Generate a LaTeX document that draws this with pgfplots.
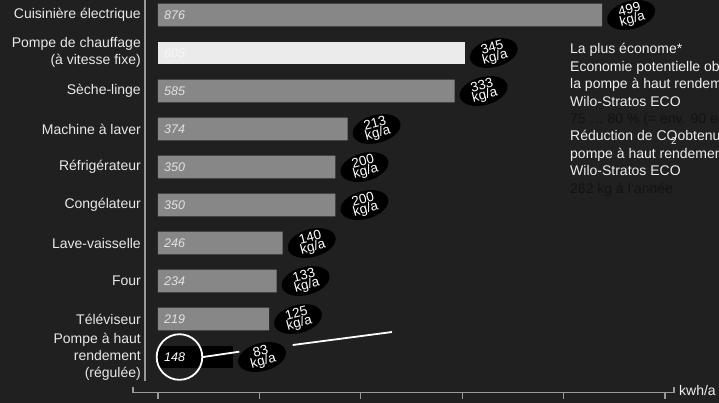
\documentclass[border=0pt]{standalone}
\usepackage{fontspec}
\setmainfont{Liberation Sans}
\usepackage{pgfplots}
\pgfplotsset{compat=1.18}
\usetikzlibrary{shapes.geometric}
\definecolor{bg}{HTML}{202020}
\definecolor{barg}{HTML}{878787}
\definecolor{barw}{HTML}{EBEBEB}
\definecolor{labelc}{HTML}{E8E8E8}
\definecolor{valc}{HTML}{E2E2E2}
\definecolor{valw}{HTML}{F8F8F8}
\definecolor{axc}{HTML}{9A9A9A}
\definecolor{dark}{HTML}{121212}
\definecolor{txt}{HTML}{EEEEEE}
\protected\def\lA{Cuisinière électrique}
\protected\def\lB{\raisebox{-3pt}{\begin{tabular}{@{}r@{}}Pompe de chauffage\\(à vitesse fixe)\end{tabular}}}
\protected\def\lC{Sèche-linge}
\protected\def\lD{Machine à laver}
\protected\def\lE{Réfrigérateur}
\protected\def\lF{Congélateur}
\protected\def\lG{Lave-vaisselle}
\protected\def\lH{Four}
\protected\def\lI{Téléviseur}
\protected\def\lJ{\raisebox{-2pt}{\begin{tabular}{@{}r@{}}Pompe à haut\\rendement\\(régulée)\end{tabular}}}
\begin{document}
\begin{tikzpicture}
\path[use as bounding box] (0,0) rectangle (719pt,-403pt);
\clip (0,0) rectangle (719pt,-403pt);
\fill[bg] (0,0) rectangle (719pt,-403pt);
\begin{axis}[
  anchor=north west, at={(145pt,0pt)},
  x=0.507pt, y=38pt, y dir=reverse,
  xmin=-25.6, xmax=1018, ymin=-0.395, ymax=9.94,
  axis line style={draw=none},
  xtick=\empty,
  ytick={0,...,9},
  yticklabels={\lA,\lB,\lC,\lD,\lE,\lF,\lG,\lH,\lI,\lJ},
  major tick length=0pt,
  yticklabel style={font=\fontsize{14}{17}\selectfont\renewcommand{\arraystretch}{1}, text=labelc, inner sep=0pt, xshift=-4pt},
  clip=false,
]
% bars
\addplot[xbar, bar width=22.7pt, bar shift=0pt, fill=barg, draw=none]
  coordinates {(876,0) (585,2) (374,3) (350,4) (350,5) (246,6) (234,7) (219,8)};
\addplot[xbar, bar width=22.7pt, bar shift=0pt, fill=barw, draw=none]
  coordinates {(605,1)};
\addplot[xbar, bar width=22.7pt, bar shift=0pt, fill=black, draw=none]
  coordinates {(148,9)};
% values inside bars
\addplot[only marks, mark=none, point meta=explicit symbolic, nodes near coords,
  every node near coord/.append style={anchor=west, xshift=5pt, inner sep=1pt, text=valc, font=\itshape\fontsize{12.5}{12.5}\selectfont}]
  coordinates {(0,0)[876] (0,2)[585] (0,3)[374] (0,4)[350] (0,5)[350] (0,6)[246] (0,7)[234] (0,8)[219]};
\addplot[only marks, mark=none, point meta=explicit symbolic, nodes near coords,
  every node near coord/.append style={anchor=west, xshift=5pt, inner sep=1pt, text=valw, font=\itshape\fontsize{12.5}{12.5}\selectfont}]
  coordinates {(0,1)[605]};
\addplot[only marks, mark=none, point meta=explicit symbolic, nodes near coords,
  every node near coord/.append style={anchor=west, xshift=5pt, inner sep=1pt, text=white, font=\itshape\fontsize{12.5}{12.5}\selectfont}]
  coordinates {(0,9)[148]};
% CO2 ellipses
\addplot[only marks, mark=none, point meta=explicit symbolic,
  nodes near coords={\pgfplotspointmeta\\kg/a},
  every node near coord/.append style={anchor=center, xshift=29pt, rotate=15, ellipse, fill=black, text=white, inner xsep=0pt, inner ysep=-3pt, minimum width=49pt, minimum height=28pt, align=center, font=\fontsize{13.5}{10.5}\selectfont}]
  coordinates {(876,0)[499] (605,1)[345] (585,2)[333] (374,3)[213] (350,4)[200] (350,5)[200] (246,6)[140] (234,7)[133] (219,8)[125] (148,9)[83]};
% axis lines
\draw[axc, line width=1.2pt] (axis cs:-25.6,-0.395) -- (axis cs:-25.6,9.63);
\draw[axc, line width=1.2pt] (axis cs:-49.3,9.78) -- (axis cs:-49.3,9.94) -- (axis cs:1017.8,9.94) -- (axis cs:1017.8,9.78);
\draw[axc, line width=1.2pt] (axis cs:0,9.94) -- (axis cs:0,10.11);
\draw[axc, line width=1.2pt] (axis cs:200,9.94) -- (axis cs:200,10.11);
\draw[axc, line width=1.2pt] (axis cs:400,9.94) -- (axis cs:400,10.11);
\draw[axc, line width=1.2pt] (axis cs:600,9.94) -- (axis cs:600,10.11);
\draw[axc, line width=1.2pt] (axis cs:800,9.94) -- (axis cs:800,10.11);
\draw[axc, line width=1.2pt] (axis cs:1000,9.94) -- (axis cs:1000,10.11);
% annotation circle and lines
\draw[white, line width=1.8pt] (axis cs:42.4,9) circle[radius=22.8pt];
\draw[white, line width=1.8pt] (axis cs:88.8,9) -- (axis cs:160.4,8.86);
\draw[white, line width=1.8pt] (axis cs:265.7,8.684) -- (axis cs:461.5,8.342);
\end{axis}
% unit label
\node[anchor=base west, inner sep=0pt, text=txt, font=\fontsize{14}{14}\selectfont] at (679pt,-395pt) {kwh/a};
% right-hand text
\begin{scope}[every node/.style={anchor=base west, inner sep=0pt, font=\fontsize{14}{14}\selectfont}]
\node[text=txt] at (570pt,-54pt) {La plus économe*};
\node[text=txt] at (570pt,-71.4pt) {Economie potentielle obtenue avec};
\node[text=txt] at (570pt,-88.8pt) {la pompe à haut rendement};
\node[text=txt] at (570pt,-106.2pt) {Wilo-Stratos ECO};
\node[text=dark] at (570pt,-123.6pt) {75 … 80 \% (= env. 90 euros)};
\node[text=txt] at (570pt,-141pt) {Réduction de CO\llap{\raisebox{-3.5pt}{\fontsize{10}{10}\selectfont 2}\kern1pt}obtenue avec la};
\node[text=txt] at (570pt,-158.4pt) {pompe à haut rendement};
\node[text=txt] at (570pt,-175.8pt) {Wilo-Stratos ECO};
\node[text=dark] at (570pt,-193.2pt) {262 kg à l'année};
\end{scope}
\end{tikzpicture}
\end{document}
